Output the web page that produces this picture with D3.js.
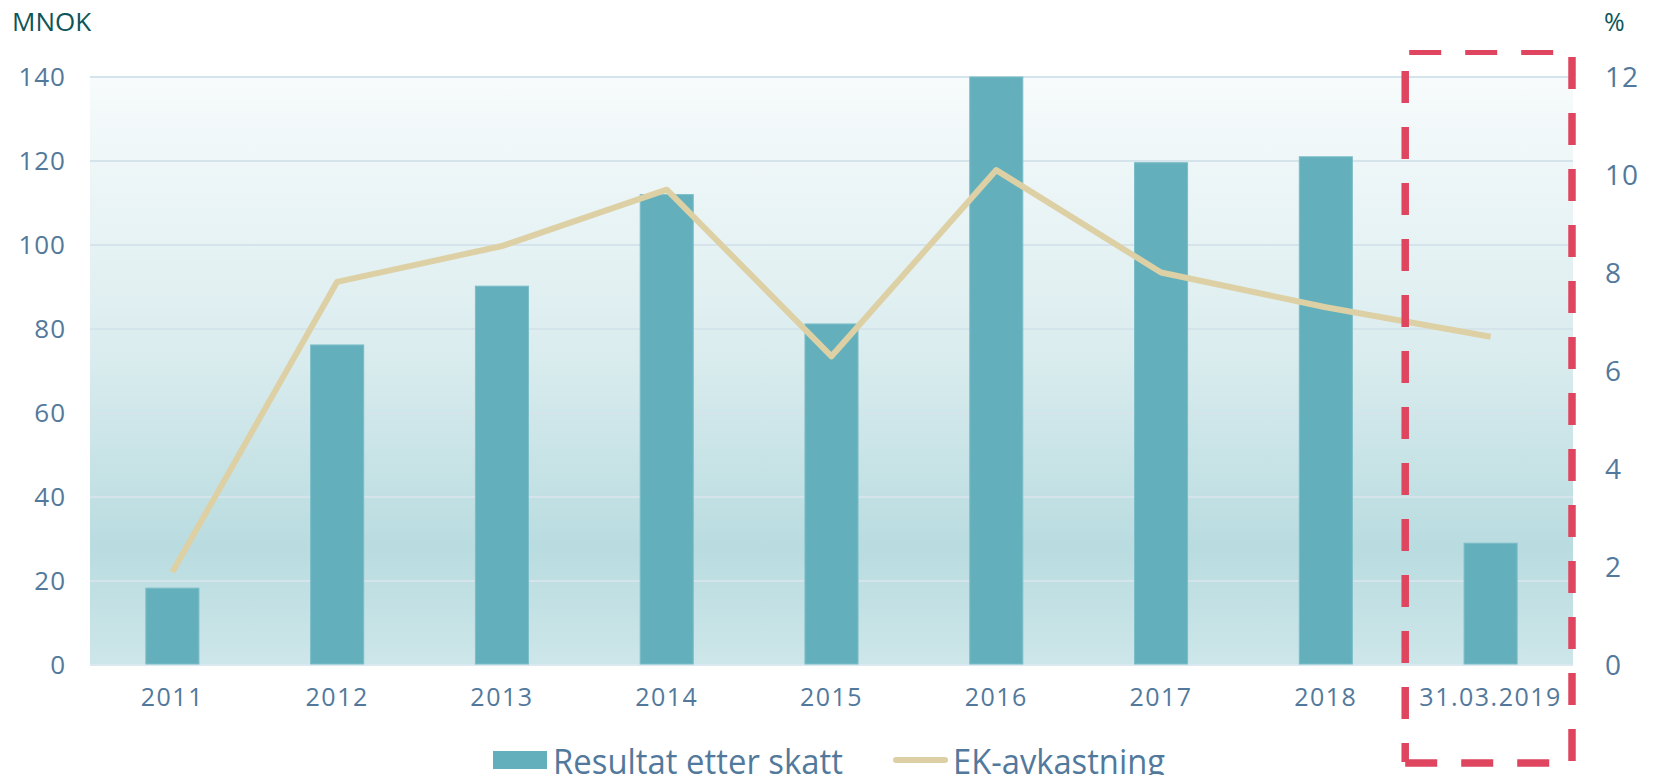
<!DOCTYPE html>
<html><head><meta charset="utf-8">
<script src="https://cdn.jsdelivr.net/npm/d3@7"></script>
<style>body{margin:0;background:#fff;}svg{display:block;}</style>
</head><body>
<svg id="c" width="1654" height="775"></svg>
<script>
const categories = ["2011","2012","2013","2014","2015","2016","2017","2018","31.03.2019"];
const resultat = [18.3, 76.2, 90.2, 112, 81.2, 140, 119.6, 121, 29];
const ekAvkastning = [1.9, 7.82, 8.55, 9.7, 6.3, 10.1, 8.01, 7.3, 6.7];
const leftTicks = [0,20,40,60,80,100,120,140];
const rightTicks = [0,2,4,6,8,10,12];
const seriesNames = ["Resultat etter skatt","EK-avkastning"];

const W=1654,H=775;
const m={l:90,r:81,t:77,b:110};
const svg=d3.select("#c");
const x=d3.scaleBand().domain(categories).range([m.l,W-m.r]).paddingInner(0.678).paddingOuter(0.339);
const band=d3.scaleBand().domain(categories).range([m.l,W-m.r]);
const yL=d3.scaleLinear().domain([0,140]).range([H-m.b,m.t]);
const yR=d3.scaleLinear().domain([0,12]).range([H-m.b,m.t]);

const defs=svg.append("defs");
const g=defs.append("linearGradient").attr("id","bg").attr("x1",0).attr("y1",0).attr("x2",0).attr("y2",1);
[[0,"#f7fbfc"],[0.45,"#dcedef"],[0.8,"#b9dce0"],[1,"#cde6e9"]].forEach(s=>g.append("stop").attr("offset",s[0]).attr("stop-color",s[1]));

svg.append("rect").attr("x",m.l).attr("y",m.t).attr("width",W-m.r-m.l).attr("height",H-m.b-m.t).attr("fill","url(#bg)");

// gridlines
svg.append("g").selectAll("line").data(leftTicks).join("line")
  .attr("x1",m.l).attr("x2",W-m.r).attr("y1",d=>yL(d)).attr("y2",d=>yL(d))
  .attr("stroke",d=>d===0?"#dbe8ef":"#d4e4ea").attr("stroke-width",2);

// bars
svg.append("g").selectAll("rect").data(resultat).join("rect")
  .attr("x",(d,i)=>x(categories[i])).attr("width",x.bandwidth())
  .attr("y",d=>yL(d)).attr("height",d=>yL(0)-yL(d)-1)
  .attr("fill","#63b0bc").attr("stroke","#7bbdc8").attr("stroke-width",1);

// line
const line=d3.line().x((d,i)=>x(categories[i])+x.bandwidth()/2).y(d=>yR(d));
svg.append("path").datum(ekAvkastning).attr("d",line).attr("fill","none")
  .attr("stroke","#ddd0a5").attr("stroke-width",6).attr("stroke-linejoin","round");

const tickColor="#52799c";
const font="'Open Sans', sans-serif";
// left axis labels
svg.append("g").selectAll("text").data(leftTicks).join("text")
  .attr("x",66).attr("y",d=>yL(d)).attr("dy","0.36em").attr("text-anchor","end")
  .attr("font-family",font).attr("font-size",26).attr("letter-spacing",1).attr("fill",tickColor).text(d=>d);
// right axis labels
svg.append("g").selectAll("text").data(rightTicks).join("text")
  .attr("x",1605).attr("y",d=>yR(d)).attr("dy","0.36em").attr("text-anchor","start")
  .attr("font-family",font).attr("font-size",28).attr("letter-spacing",1).attr("fill",tickColor).text(d=>d);
// x labels
svg.append("g").selectAll("text").data(categories).join("text")
  .attr("x",d=>x(d)+x.bandwidth()/2).attr("y",706).attr("text-anchor","middle")
  .attr("font-family",font).attr("font-size",25).attr("letter-spacing",1.5).attr("fill",tickColor).text(d=>d);

// unit labels
svg.append("text").attr("x",12).attr("y",31).attr("font-family",font).attr("font-size",26)
  .attr("fill","#0d5559").text("MNOK");
svg.append("text").attr("x",1604).attr("y",31).attr("font-family",font).attr("font-size",25)
  .attr("fill","#0d5559").text("%");

// legend
const lg=svg.append("g");
lg.append("rect").attr("x",493).attr("y",751).attr("width",54).attr("height",18).attr("fill","#63b0bc");
lg.append("text").attr("x",553).attr("y",774).attr("font-family",font).attr("font-size",35)
  .attr("textLength",290).attr("lengthAdjust","spacingAndGlyphs").attr("fill",tickColor).text(seriesNames[0]);
lg.append("line").attr("x1",896).attr("x2",945).attr("y1",760).attr("y2",760)
  .attr("stroke","#ddd0a5").attr("stroke-width",6).attr("stroke-linecap","round");
lg.append("text").attr("x",953).attr("y",774).attr("font-family",font).attr("font-size",35)
  .attr("textLength",212).attr("lengthAdjust","spacingAndGlyphs").attr("fill",tickColor).text(seriesNames[1]);

// red dashed highlight around last category
const last=categories[categories.length-1];
const bx0=band(last)-3, bx1=band(last)+band.bandwidth()-1;
const red="#e0455f";
const box=svg.append("g").attr("stroke",red).attr("fill","none").attr("stroke-dasharray","32,24");
box.append("line").attr("x1",bx0).attr("x2",bx0).attr("y1",71).attr("y2",762).attr("stroke-width",7.5);
box.append("line").attr("x1",bx1).attr("x2",bx1).attr("y1",57).attr("y2",761).attr("stroke-width",7.5);
box.append("line").attr("x1",bx0+4).attr("x2",bx1-18).attr("y1",52.5).attr("y2",52.5).attr("stroke-width",5);
box.append("line").attr("x1",bx0).attr("x2",bx1).attr("y1",763).attr("y2",763).attr("stroke-width",7.5);
</script>
</body></html>
